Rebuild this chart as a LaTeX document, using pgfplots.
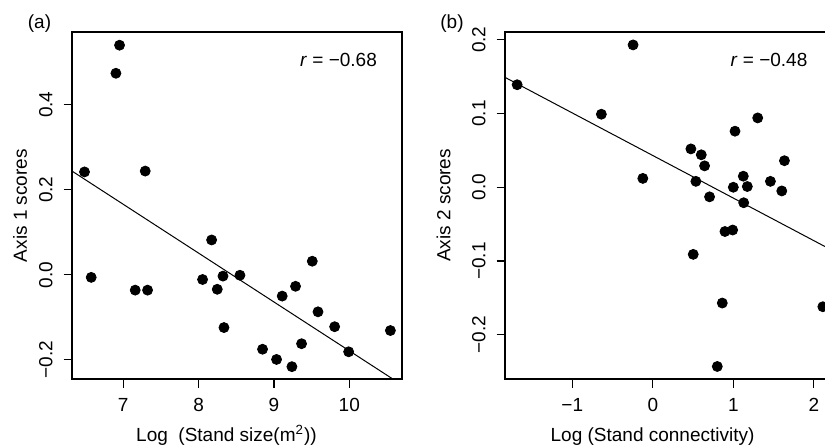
\documentclass[border=0pt]{standalone}
\usepackage{fontspec}
\setmainfont{Liberation Sans}
\usepackage{pgfplots}
\pgfplotsset{compat=1.18}

\pgfplotsset{
  rplot/.style={
    scale only axis,
    anchor=south west,
    height=173.5pt,
    axis line style={line width=0.6pt},
    tick align=outside,
    tick style={line width=0.6pt, black},
    major tick length=4.25pt,
    xtick pos=bottom, ytick pos=left,
    font=\fontsize{9.5}{11}\selectfont,
    xticklabel style={anchor=north, inner sep=0pt},
    yticklabel style={rotate=90, anchor=south, inner sep=0pt},
    xticklabel shift=5.25pt,
    yticklabel shift=5.25pt,
    x label style={anchor=base, inner sep=0pt},
    y label style={anchor=center, inner sep=0pt},
    mark size=2.5pt,
  },
}

\begin{document}
\begin{tikzpicture}
\path[use as bounding box] (0,0) rectangle (412.5pt,223.5pt);

% panel (a)
\begin{axis}[rplot,
    at={(36pt,34pt)}, width=165pt,
    xmin=6.32, xmax=10.70, ymin=-0.245, ymax=0.571,
    xtick={7,8,9,10},
    xticklabels={7,8,9,10},
    ytick={-0.2,0,0.2,0.4},
    yticklabels={−0.2,0.0,0.2,0.4},
    xlabel={Log\ \ (Stand size(m\textsuperscript{2}))},
    ylabel={Axis 1 scores},
    x label style={at={(axis description cs:0.468,0)}, yshift=-31.35pt},
    y label style={at={(axis description cs:-0.1576,0.5)}},
]
\addplot[black, line width=0.5pt] coordinates {(6.32,0.244) (10.70,-0.259)};
\addplot[only marks, mark=*, black] coordinates {
(6.486,0.242) (6.575,-0.006) (6.903,0.474) (6.951,0.540) (7.159,-0.036)
(7.323,-0.036) (7.292,0.244) (8.053,-0.011) (8.173,0.082) (8.248,-0.034)
(8.324,-0.003) (8.337,-0.124) (8.549,-0.001) (8.849,-0.175) (9.035,-0.199)
(9.110,-0.050) (9.239,-0.216) (9.287,-0.027) (9.367,-0.162) (9.509,0.032)
(9.585,-0.087) (9.806,-0.122) (9.992,-0.181) (10.546,-0.131)
};
\end{axis}

% panel (b)
\begin{axis}[rplot,
    at={(252.5pt,34pt)}, width=162.5pt,
    xmin=-1.836, xmax=2.201, ymin=-0.260, ymax=0.2105,
    xtick={-1,0,1,2},
    xticklabels={−1,0,1,2},
    ytick={-0.2,-0.1,0,0.1,0.2},
    yticklabels={−0.2,−0.1,0.0,0.1,0.2},
    xlabel={Log (Stand connectivity)},
    ylabel={Axis 2 scores},
    x label style={at={(axis description cs:0.454,0)}, yshift=-31.35pt},
    y label style={at={(axis description cs:-0.1892,0.5)}},
]
\addplot[black, line width=0.5pt] coordinates {(-1.836,0.149) (2.201,-0.084)};
\addplot[only marks, mark=*, black] coordinates {
(-1.685,0.139) (-0.639,0.099) (-0.245,0.193) (-0.124,0.012) (0.473,0.052)
(0.535,0.008) (0.502,-0.091) (0.602,0.044) (0.643,0.029) (0.705,-0.013)
(0.863,-0.157) (0.801,-0.243) (0.896,-0.060) (0.992,-0.058) (1.000,0.000)
(1.021,0.076) (1.124,0.015) (1.129,-0.021) (1.174,0.001) (1.303,0.094)
(1.461,0.008) (1.602,-0.005) (1.635,0.036) (2.112,-0.162)
};
\end{axis}

\begin{scope}[font=\fontsize{9.5}{11}\selectfont]
\node at (19.75pt,211.75pt) {(a)};
\node at (226pt,211.75pt) {(b)};
\node at (169.25pt,193.5pt) {\textit{r} = −0.68};
\node at (384.5pt,193.5pt) {\textit{r} = −0.48};
\end{scope}
\end{tikzpicture}
\end{document}
